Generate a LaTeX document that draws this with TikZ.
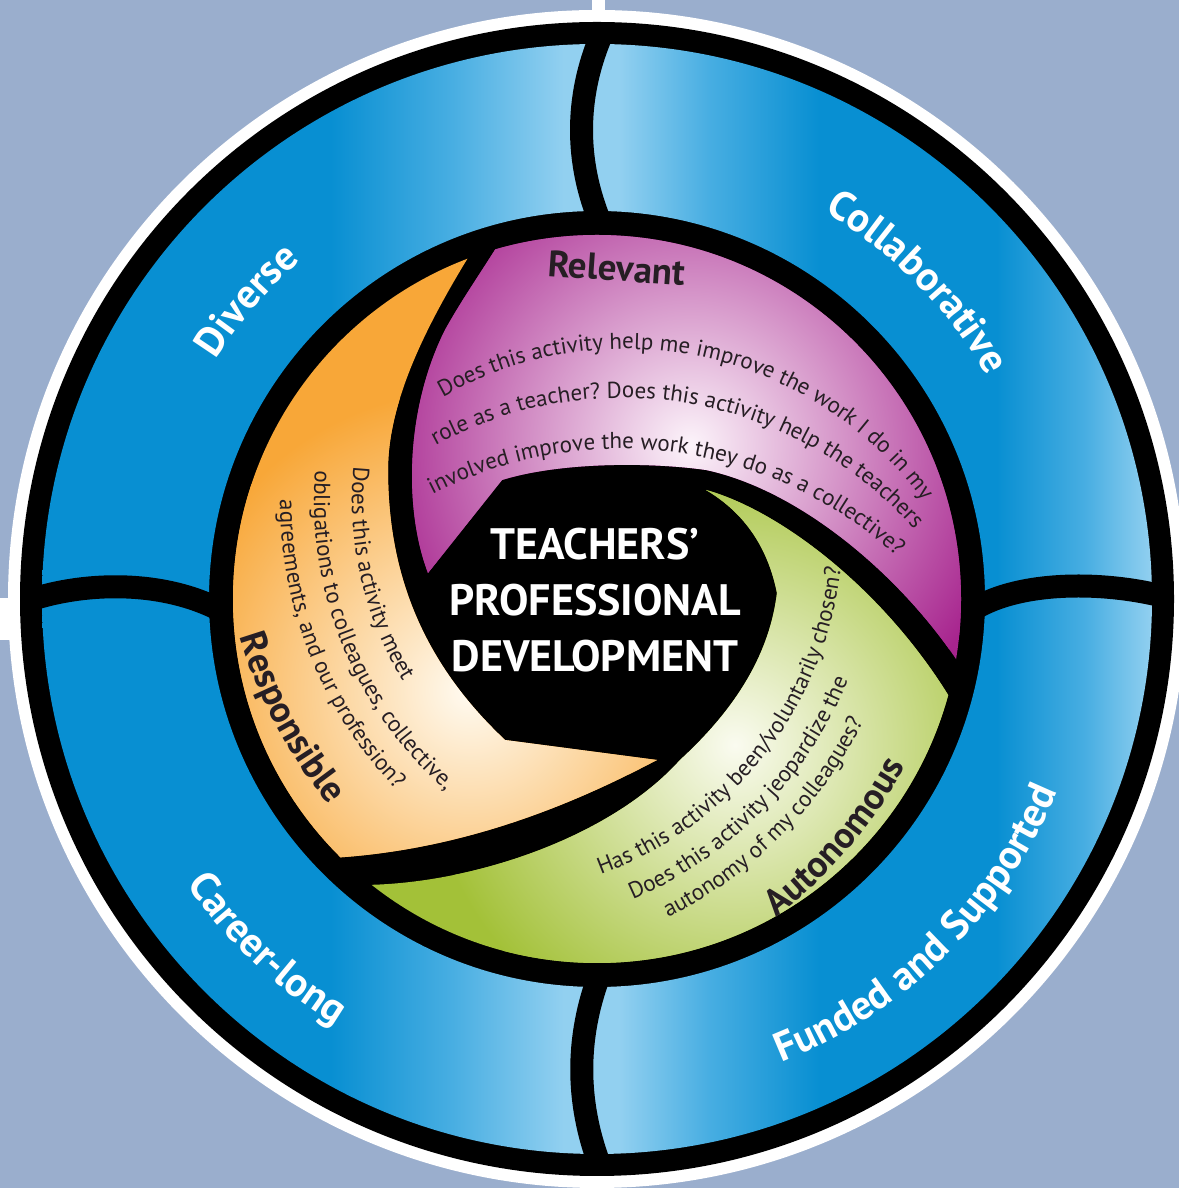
\documentclass[tikz,border=0pt]{standalone}
\usepackage{fontspec}
\setmainfont{PT Sans}
\usetikzlibrary{decorations.text}
\definecolor{bgblue}{RGB}{154,174,205}
\definecolor{ringdark}{RGB}{8,143,210}
\definecolor{ringmid}{RGB}{72,174,226}
\definecolor{ringlight}{RGB}{146,208,240}
\definecolor{relcol}{RGB}{167,36,142}
\definecolor{relin}{RGB}{252,244,250}
\definecolor{rescol}{RGB}{248,167,56}
\definecolor{resin}{RGB}{255,251,242}
\definecolor{autcol}{RGB}{163,193,56}
\definecolor{autin}{RGB}{250,251,240}
\definecolor{txtdark}{RGB}{38,30,36}
\pgfdeclarehorizontalshading{ringshade}{100bp}{color(0bp)=(ringdark); color(25bp)=(ringdark); color(38bp)=(ringdark); color(43.5bp)=(ringmid); color(48.5bp)=(ringlight); color(51bp)=(ringlight); color(55bp)=(ringmid); color(60bp)=(ringdark); color(68bp)=(ringdark); color(72bp)=(ringmid); color(75bp)=(ringlight); color(100bp)=(ringlight)}
\newcommand{\ringtxt}{\fontsize{41}{48}\selectfont\bfseries}
\newcommand{\bodytxt}{\fontsize{23}{27}\selectfont}
\newcommand{\headtxt}{\fontsize{37}{42}\selectfont\bfseries}
\tikzset{
  divider/.style={line width=23pt, black},
  ringlabel/.style={decorate, decoration={text along path, text align=center, text color=white, text={|\ringtxt|#1}}},
  bodyline/.style={decorate, decoration={text along path, text align=center, text color=txtdark, text={|\bodytxt|#1}}},
  headline/.style={decorate, decoration={text along path, text align=center, text color=txtdark, text={|\headtxt|#1}}}
}
\begin{document}
\begin{tikzpicture}[x=1pt,y=1pt]
\useasboundingbox (0,0) rectangle (1179,1188);
\fill[bgblue] (0,0) rectangle (1179,1188);
\fill[white] (592,1170) rectangle (605,1188);
\fill[white] (0,548) rectangle (12,590);
\fill[white] (597,589) circle (589);
\fill[black] (597,589) circle (577);
\shade[shading=ringshade, even odd rule] (597,589) circle (555) (597,589) circle (388);
\draw[divider] (601,1152) .. controls (575,1090) and (575,1026) .. (601,964);
\draw[divider] (599,212) .. controls (576,150) and (576,87) .. (599,25);
\draw[divider] (30,588) .. controls (85,606) and (160,608) .. (218,579);
\draw[divider] (976,580) .. controls (1020,606) and (1100,608) .. (1166,591);
\begin{scope}
\clip (597,589) circle (364);
\begin{scope}
\clip (428,615) .. controls (404,678) and (405,778) .. (445,858) .. controls (470,903) and (498,938) .. (530,998) -- (530,1120) -- (1100,1120) -- (1100,526) -- (958,526) .. controls (900,613) and (800,698) .. (706,718) .. controls (650,726) and (560,726) .. (502,708) -- cycle;
\fill[relcol] (0,0) rectangle (1179,1188);
\shade[inner color=relin, outer color=relcol] (690,743) circle (330);
\end{scope}
\begin{scope}
\clip (657,428) .. controls (590,393) and (475,338) .. (330,330) -- (150,250) -- (80,250) -- (80,1100) -- (495,1100) -- (495,973) .. controls (440,888) and (388,798) .. (388,718) .. controls (388,618) and (420,528) .. (505,448) -- cycle;
\fill[rescol] (0,0) rectangle (1179,1188);
\shade[inner color=resin, outer color=rescol] (470,498) circle (300);
\end{scope}
\begin{scope}
\clip (706,698) .. controls (778,678) and (878,603) .. (945,498) -- (1000,408) -- (1000,0) -- (250,0) -- (250,303) -- (360,303) .. controls (470,303) and (610,350) .. (680,428) .. controls (740,483) and (770,538) .. (777,595) .. controls (768,640) and (745,675) .. (706,698) -- cycle;
\fill[autcol] (0,0) rectangle (1179,1188);
\shade[inner color=autin, outer color=autcol] (735,443) circle (310);
\end{scope}
\end{scope}
\path[shift={(597,589)}, ringlabel={Diverse}] (214.5:450) arc[start angle=214.5, end angle=64.5, radius=450];
\path[shift={(597,589)}, ringlabel={Collaborative}] (119.7:449) arc[start angle=119.7, end angle=-30.3, radius=449];
\path[shift={(597,589)}, ringlabel={Career-long}] (151.7:500) arc[start angle=151.7, end angle=301.7, radius=500];
\path[shift={(597,589)}, ringlabel={Funded and Supported}] (-120.5:499) arc[start angle=-120.5, end angle=29.5, radius=499];
\node[rotate=-4, text=txtdark, font=\headtxt] (relevant) at (617,920) {Relevant};
\path[shift={(625,471)}, bodyline={Does this activity help me improve the work I do in my}] (152.8:368) arc[start angle=152.8, end angle=2.8, radius=368];
\path[shift={(622,400)}, bodyline={role as a teacher? Does this activity help the teachers}] (155:390) arc[start angle=155, end angle=5, radius=390];
\path[shift={(620,329)}, bodyline={involved improve the work they do as a collective?}] (157.4:410) arc[start angle=157.4, end angle=7.4, radius=410];
\path[shift={(700,688)}, bodyline={Does this activity meet}] (117.9:348) arc[start angle=117.9, end angle=267.9, radius=348];
\path[shift={(700,688)}, bodyline={obligations to colleagues, collective,}] (127.2:386) arc[start angle=127.2, end angle=277.2, radius=386];
\path[shift={(700,688)}, bodyline={agreements, and our profession?}] (126.8:420) arc[start angle=126.8, end angle=276.8, radius=420];
\path[shift={(700,688)}, headline={Responsible}] (133:480) arc[start angle=133, end angle=283, radius=480];
\path[shift={(472,661)}, bodyline={Has this activity been/voluntarily chosen?}] (-113:371) arc[start angle=-113, end angle=37, radius=371];
\path[shift={(472,661)}, bodyline={Does this activity jeopardize the}] (-119.4:406) arc[start angle=-119.4, end angle=30.6, radius=406];
\path[shift={(472,661)}, bodyline={autonomy of my colleagues?}] (-119.9:437) arc[start angle=-119.9, end angle=30.1, radius=437];
\path[shift={(472,661)}, headline={Autonomous}] (-115.5:495) arc[start angle=-115.5, end angle=34.5, radius=495];
\node[align=center, text=white, font=\fontsize{44}{56}\selectfont\bfseries] (core) at (595,588) {TEACHERS’\\PROFESSIONAL\\DEVELOPMENT};
\end{tikzpicture}
\end{document}
